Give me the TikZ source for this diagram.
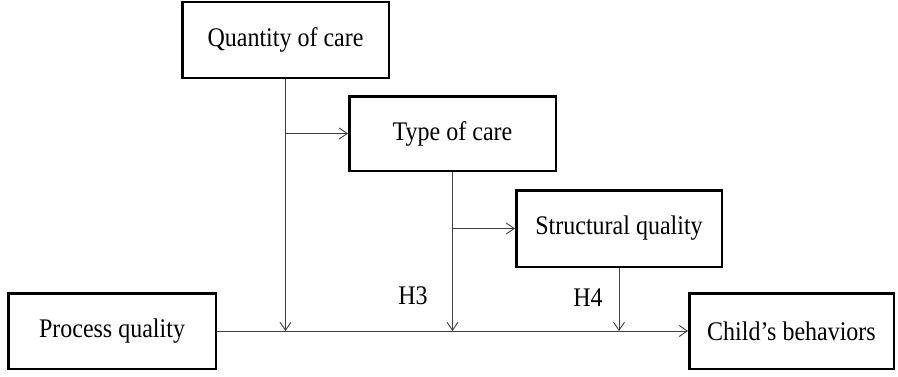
\documentclass[tikz,border=0pt]{standalone}
\usepackage{fontspec}
\setmainfont{Liberation Serif}
\usetikzlibrary{arrows.meta}
\newcommand{\tallt}[1]{\scalebox{1}[1.12]{#1}}
\tikzset{
  box/.style={draw=black, line width=2.5pt, fill=white, inner sep=0pt, font=\fontsize{24}{28}\selectfont},
  conn/.style={draw=black!75, line width=0.9pt, -{Straight Barb[length=8pt,width=11pt,line width=0.9pt]}},
  lab/.style={font=\fontsize{24}{28}\selectfont, inner sep=0pt}
}
\begin{document}
\begin{tikzpicture}[x=1pt,y=1pt]
\useasboundingbox (0,0) rectangle (898,376);
\node[box, minimum width=206.5pt, minimum height=75.5pt] (q) at (285.5,336) {\tallt{Quantity of care}};
\node[box, minimum width=206.5pt, minimum height=74.5pt] (t) at (452.5,242.5) {\tallt{Type of care}};
\node[box, minimum width=205.5pt, minimum height=76.5pt] (s) at (619,147.5) {\tallt{Structural quality}};
\node[box, minimum width=207.5pt, minimum height=75.5pt] (p) at (112,45) {\tallt{Process quality}};
\node[box, minimum width=204.5pt, minimum height=75.5pt] (c) at (791.5,45) {\tallt{Child’s behaviors}};
\node[lab] (h3) at (413,80) {\tallt{H3}};
\node[lab] (h4) at (588,78) {\tallt{H4}};
\draw[conn] (q.south) -- (q.south |- p.east);
\draw[conn] (q.south |- t.west) -- (t.west);
\draw[conn] (t.south) -- (t.south |- p.east);
\draw[conn] (t.south |- s.west) -- (s.west);
\draw[conn] (s.south) -- (s.south |- p.east);
\draw[conn] (p.east) -- (c.west);
\end{tikzpicture}
\end{document}
